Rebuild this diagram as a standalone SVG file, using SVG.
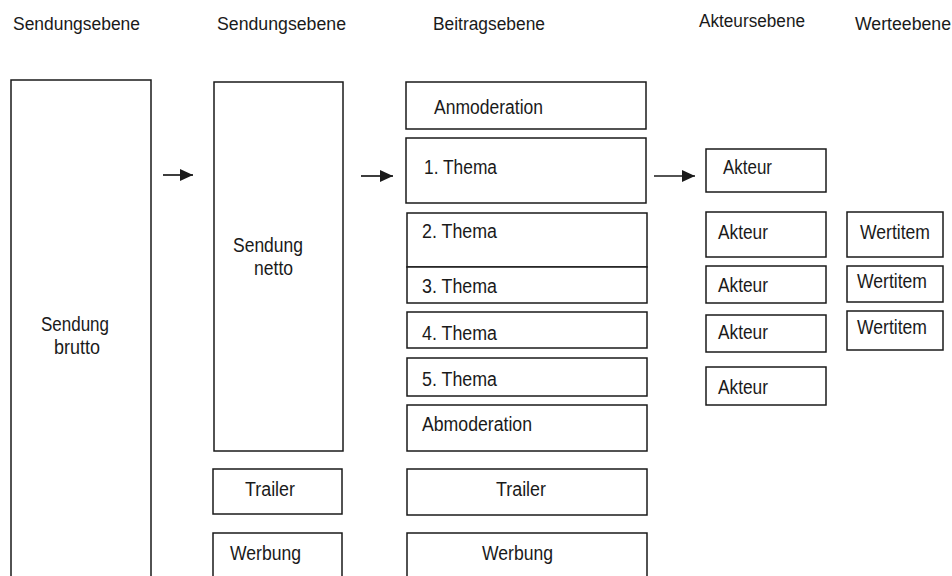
<svg xmlns="http://www.w3.org/2000/svg" width="952" height="576" viewBox="0 0 952 576">
<style>
.b{fill:#fff;stroke:#1a1a1a;stroke-width:1.5}
.t{font-family:"Liberation Sans",Arial,sans-serif;font-size:20px;fill:#1a1a1a}
.h{font-family:"Liberation Sans",Arial,sans-serif;font-size:18px;fill:#1a1a1a}
.c{stroke:#1a1a1a;stroke-width:1.7;fill:none}
</style>
<defs>
<marker id="ah" markerUnits="userSpaceOnUse" markerWidth="13" markerHeight="12" refX="13" refY="6" orient="auto">
<path d="M0,0 L13,6 L0,12 Z" fill="#1a1a1a"/>
</marker>
</defs>
<rect width="952" height="576" fill="#fff"/>
<g id="headers">
<text class="h" x="13" y="30" textLength="127" lengthAdjust="spacingAndGlyphs">Sendungsebene</text>
<text class="h" x="217" y="30" textLength="129" lengthAdjust="spacingAndGlyphs">Sendungsebene</text>
<text class="h" x="433" y="30" textLength="112" lengthAdjust="spacingAndGlyphs">Beitragsebene</text>
<text class="h" x="699" y="27" textLength="106" lengthAdjust="spacingAndGlyphs">Akteursebene</text>
<text class="h" x="855" y="30" textLength="96" lengthAdjust="spacingAndGlyphs">Werteebene</text>
</g>
<g id="sendung-brutto"><path class="b" d="M11,580 V80 H151 V580"/><text class="t" x="41" y="331" textLength="68" lengthAdjust="spacingAndGlyphs">Sendung</text><text class="t" x="54" y="354" textLength="46" lengthAdjust="spacingAndGlyphs">brutto</text></g>
<g id="sendung-netto"><rect class="b" x="214" y="82" width="129" height="369"/><text class="t" x="233" y="252" textLength="70" lengthAdjust="spacingAndGlyphs">Sendung</text><text class="t" x="254" y="275" textLength="39" lengthAdjust="spacingAndGlyphs">netto</text></g>
<g id="trailer-netto"><rect class="b" x="213" y="469" width="129" height="45"/><text class="t" x="245" y="496" textLength="50" lengthAdjust="spacingAndGlyphs">Trailer</text></g>
<g id="werbung-netto"><path class="b" d="M213,580 V533 H342 V580"/><text class="t" x="230" y="560" textLength="71" lengthAdjust="spacingAndGlyphs">Werbung</text></g>
<g id="anmoderation"><rect class="b" x="406" y="82" width="240" height="47"/><text class="t" x="434" y="114" textLength="109" lengthAdjust="spacingAndGlyphs">Anmoderation</text></g>
<g id="thema1"><rect class="b" x="406" y="138" width="240" height="65"/><text class="t" x="424" y="174" textLength="73" lengthAdjust="spacingAndGlyphs">1. Thema</text></g>
<g id="thema2"><rect class="b" x="407" y="213" width="240" height="54"/><text class="t" x="422" y="238" textLength="75" lengthAdjust="spacingAndGlyphs">2. Thema</text></g>
<g id="thema3"><rect class="b" x="407" y="267" width="240" height="36"/><text class="t" x="422" y="293" textLength="75" lengthAdjust="spacingAndGlyphs">3. Thema</text></g>
<g id="thema4"><rect class="b" x="407" y="312" width="240" height="36"/><text class="t" x="422" y="340" textLength="75" lengthAdjust="spacingAndGlyphs">4. Thema</text></g>
<g id="thema5"><rect class="b" x="407" y="358" width="240" height="38"/><text class="t" x="422" y="386" textLength="75" lengthAdjust="spacingAndGlyphs">5. Thema</text></g>
<g id="abmoderation"><rect class="b" x="407" y="405" width="240" height="46"/><text class="t" x="422" y="431" textLength="110" lengthAdjust="spacingAndGlyphs">Abmoderation</text></g>
<g id="trailer-beitrag"><rect class="b" x="407" y="469" width="240" height="46"/><text class="t" x="496" y="496" textLength="50" lengthAdjust="spacingAndGlyphs">Trailer</text></g>
<g id="werbung-beitrag"><path class="b" d="M407,580 V533 H647 V580"/><text class="t" x="482" y="560" textLength="71" lengthAdjust="spacingAndGlyphs">Werbung</text></g>
<g id="akteur1"><rect class="b" x="706" y="149" width="120" height="43"/><text class="t" x="723" y="174" textLength="49" lengthAdjust="spacingAndGlyphs">Akteur</text></g>
<g id="akteur2"><rect class="b" x="706" y="212" width="120" height="45"/><text class="t" x="718" y="239" textLength="50" lengthAdjust="spacingAndGlyphs">Akteur</text></g>
<g id="akteur3"><rect class="b" x="706" y="266" width="120" height="37"/><text class="t" x="718" y="292" textLength="50" lengthAdjust="spacingAndGlyphs">Akteur</text></g>
<g id="akteur4"><rect class="b" x="706" y="315" width="120" height="37"/><text class="t" x="718" y="339" textLength="50" lengthAdjust="spacingAndGlyphs">Akteur</text></g>
<g id="akteur5"><rect class="b" x="706" y="367" width="120" height="38"/><text class="t" x="718" y="394" textLength="50" lengthAdjust="spacingAndGlyphs">Akteur</text></g>
<g id="wertitem1"><rect class="b" x="847" y="212" width="96" height="45"/><text class="t" x="860" y="239" textLength="70" lengthAdjust="spacingAndGlyphs">Wertitem</text></g>
<g id="wertitem2"><rect class="b" x="847" y="266" width="96" height="36"/><text class="t" x="857" y="288" textLength="70" lengthAdjust="spacingAndGlyphs">Wertitem</text></g>
<g id="wertitem3"><rect class="b" x="847" y="311" width="96" height="39"/><text class="t" x="857" y="334" textLength="70" lengthAdjust="spacingAndGlyphs">Wertitem</text></g>
<g id="connectors">
<line class="c" x1="163" y1="175" x2="193" y2="175" marker-end="url(#ah)"/>
<line class="c" x1="361" y1="176" x2="393" y2="176" marker-end="url(#ah)"/>
<line class="c" x1="654" y1="176" x2="695" y2="176" marker-end="url(#ah)"/>
</g>
</svg>
